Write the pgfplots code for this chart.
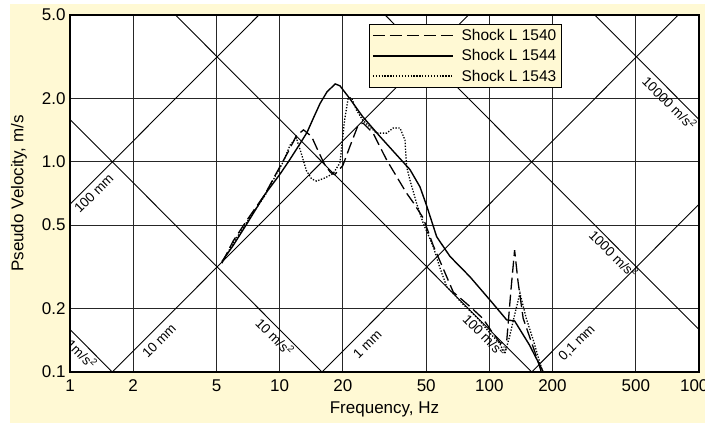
\documentclass[border=0pt]{standalone}
\usepackage{pgfplots}
\pgfplotsset{compat=1.18}
\usepackage{fontspec}
\setmainfont{Liberation Sans}
\definecolor{cream}{RGB}{255,249,212}
\begin{document}
\begin{tikzpicture}[x=1pt,y=1pt]
\fill[cream] (10,2) rectangle (705,421);
\begin{axis}[
  at={(70pt,53pt)}, anchor=south west,
  scale only axis, width=629pt, height=357pt,
  xmode=log, ymode=log,
  xmin=1, xmax=1000, ymin=0.1, ymax=5,
  axis background/.style={fill=white},
  axis line style={line width=1.3pt},
  xtick={1,2,5,10,20,50,100,200,500,1000},
  xticklabels={1,2,5,10,20,50,100,200,500,1000},
  ytick={0.1,0.2,0.5,1,2,5},
  yticklabels={0.1,0.2,0.5,1.0,2.0,5.0},
  minor xtick={}, minor ytick={},
  major tick length=0pt,
  grid=major,
  major grid style={black!85, line width=1.1pt},
  tick label style={font=\fontsize{17}{20}\selectfont},
  xticklabel style={yshift=-4pt},
  yticklabel style={xshift=-1pt},
  xlabel={Frequency, Hz},
  ylabel={Pseudo Velocity, m/s},
  label style={font=\fontsize{17}{20}\selectfont},
  x label style={at={(axis description cs:0.5,-0.1036)}, anchor=center},
  y label style={at={(axis description cs:-0.081,0.5)}, anchor=center},
  legend style={at={(rel axis cs:0.475,0.975)}, anchor=north west,
    draw=black, line width=0.8pt, fill=cream, font=\fontsize{15.5}{18}\selectfont,
    inner xsep=3pt, inner ysep=3pt, row sep=3.5pt, column sep=6pt, cells={anchor=west}},
  legend image code/.code={\draw[#1] (0pt,0pt) -- (80pt,0pt);},
  clip=true,
]
% displacement lines
\addplot[black, line width=0.9pt, forget plot] coordinates {(1,0.6283) (10,6.283)};
\addplot[black, line width=0.9pt, forget plot] coordinates {(1,0.06283) (100,6.283)};
\addplot[black, line width=0.9pt, forget plot] coordinates {(10,0.06283) (1000,6.283)};
\addplot[black, line width=0.9pt, forget plot] coordinates {(100,0.06283) (1000,0.6283)};
% acceleration lines
\addplot[black, line width=0.9pt, forget plot] coordinates {(1,0.1592) (2,0.0796)};
\addplot[black, line width=0.9pt, forget plot] coordinates {(1,1.592) (20,0.0796)};
\addplot[black, line width=0.9pt, forget plot] coordinates {(1,15.92) (200,0.0796)};
\addplot[black, line width=0.9pt, forget plot] coordinates {(10,15.92) (1000,0.1592)};
\addplot[black, line width=0.9pt, forget plot] coordinates {(100,15.92) (1000,1.592)};
% Shock L 1540 (dashed)
\addplot[black, line width=1.3pt, dash pattern=on 12pt off 5pt] coordinates {
(5.3,0.33) (6,0.42) (7,0.53) (8.5,0.70) (9.5,0.86) (11,1.12) (12,1.33) (13,1.42)
(14.2,1.32) (15.3,1.12) (16.4,0.97) (17.5,0.89) (18.3,0.87) (20,0.96) (21.6,1.18)
(23.7,1.5) (25,1.53) (27.9,1.37) (32.4,1.02) (37.5,0.80) (40.3,0.71) (43.4,0.64)
(48.4,0.54) (54,0.40) (60.3,0.31) (67.3,0.24) (80.8,0.205) (93,0.18) (104,0.153)
(113,0.137) (121,0.14) (127,0.25) (132,0.38) (137,0.27) (145,0.18) (168,0.118) (177,0.10)};
\addlegendentry{Shock L 1540}
% Shock L 1544 (solid)
\addplot[black, line width=1.4pt] coordinates {
(5.3,0.335) (6,0.40) (7,0.51) (8.5,0.70) (10,0.87) (11,1.0) (12.5,1.22) (13.5,1.38)
(14.5,1.62) (15.6,1.9) (16.8,2.15) (18.4,2.35) (19.4,2.30) (21.6,2.0) (24.9,1.64)
(30.1,1.32) (36.1,1.08) (41.8,0.92) (46.7,0.76) (50.2,0.62) (56.1,0.44) (64.9,0.355)
(80.8,0.284) (100.7,0.22) (121,0.177) (132,0.175) (155,0.135) (181,0.10)};
\addlegendentry{Shock L 1544}
% Shock L 1543 (dotted)
\addplot[black, line width=1.3pt, dash pattern=on 1.3pt off 1.6pt] coordinates {
(5.3,0.33) (6,0.41) (7,0.52) (8.5,0.69) (9.5,0.85) (10.4,1.0) (11.2,1.2) (12,1.3)
(12.6,1.12) (13.4,0.91) (14.2,0.83) (15,0.81) (16.5,0.84) (18,0.88) (19.4,0.99)
(20.4,1.58) (21.2,2.0) (22,2.02) (23.2,1.77) (24.9,1.58) (29,1.37) (32.4,1.37)
(34.8,1.45) (37.5,1.45) (39.6,1.27) (40.3,0.95) (41.8,0.82) (45,0.635) (48.4,0.51)
(54,0.395) (58,0.315) (62.6,0.255) (75,0.21) (88,0.18) (100.7,0.153) (112,0.137)
(118.5,0.122) (125,0.148) (132.5,0.19) (140,0.237) (150,0.18) (162,0.142) (174.5,0.11) (180,0.10)};
\addlegendentry{Shock L 1543}
% line labels
\begin{scope}[every node/.style={font=\fontsize{13.5}{15}\selectfont, inner sep=0pt}]
\node[rotate=45] at (axis cs:1.30,0.71) {100 mm};
\node[rotate=45] at (axis cs:2.66,0.141) {10 mm};
\node[rotate=45] at (axis cs:26.2,0.136) {1 mm};
\node[rotate=45] at (axis cs:262,0.137) {0,1 mm};
\node[rotate=-45] at (axis cs:1.14,0.122) {1m/s\textsuperscript{2}};
\node[rotate=-45] at (axis cs:9.5,0.147) {10 m/s\textsuperscript{2}};
\node[rotate=-45] at (axis cs:95.3,0.15) {100 m/s\textsuperscript{2}};
\node[rotate=-45] at (axis cs:393,0.365) {1000 m/s\textsuperscript{2}};
\node[rotate=-45] at (axis cs:726,1.91) {10000 m/s\textsuperscript{2}};
\end{scope}
\end{axis}
\pgfresetboundingbox
\useasboundingbox (0,0) rectangle (705,425);
\end{tikzpicture}
\end{document}
